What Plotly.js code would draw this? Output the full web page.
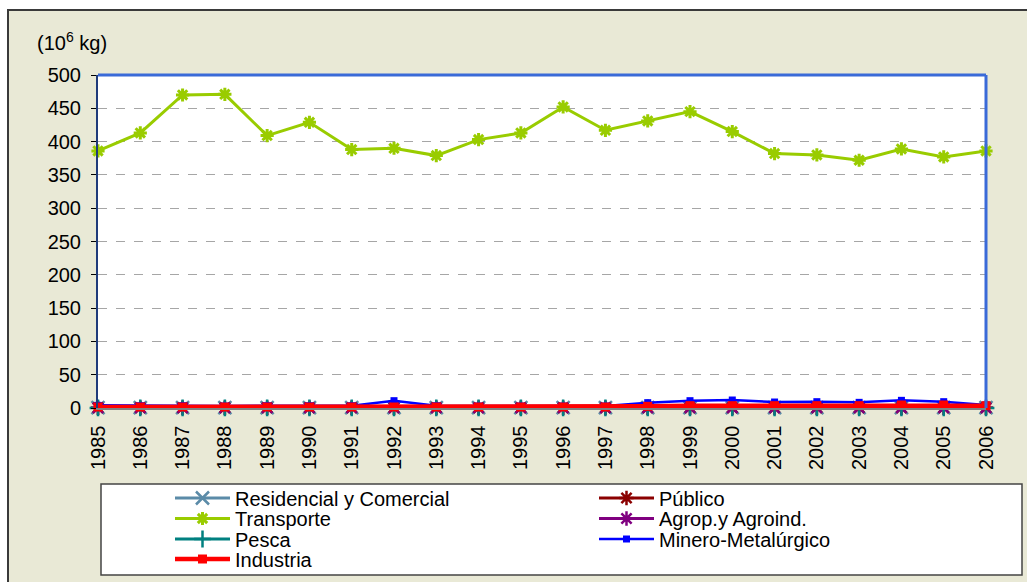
<!DOCTYPE html>
<html>
<head>
<meta charset="utf-8">
<script src="https://cdn.plot.ly/plotly-3.0.1.min.js"></script>
<style>
  html, body { margin: 0; padding: 0; background: #ffffff; width: 1027px; height: 582px; overflow: hidden; }
  #frame { position: absolute; left: 7px; top: 9px; width: 1040px; height: 600px; border: 2px solid #3a3a3a; background: #E9E9D6; box-sizing: border-box; }
  #chart { position: absolute; left: 0; top: 0; width: 1027px; height: 582px; }
</style>
</head>
<body>
<div id="frame"></div>
<div id="chart"></div>
<script>
// ---- data ----
const years = [1985,1986,1987,1988,1989,1990,1991,1992,1993,1994,1995,1996,1997,1998,1999,2000,2001,2002,2003,2004,2005,2006];
const residencial = [0.5,0.5,0.5,0.5,0.5,0.5,0.5,0.5,0.5,0.5,0.5,0.5,0.5,0.5,0.5,0.5,0.5,0.5,0.5,0.5,0.5,0.5];
const publico     = [0.3,0.3,0.3,0.3,0.3,0.3,0.3,0.3,0.3,0.3,0.3,0.3,0.3,0.3,0.3,0.3,0.3,0.3,0.3,0.3,0.3,0.3];
const transporte  = [386,413,470,471,409,429,388,390,379,403,413,452,417,431,445,415,382,380,372,389,377,386];
const agrop       = [0.2,0.2,0.2,0.2,0.2,0.2,0.2,0.2,0.2,0.2,0.2,0.2,0.2,0.2,0.2,0.2,0.2,0.2,0.2,0.2,0.2,0.2];
const pesca       = [0.1,0.1,0.1,0.1,0.1,0.1,0.1,0.1,0.1,0.1,0.1,0.1,0.1,0.1,0.1,0.1,0.1,0.1,0.1,0.1,0.1,0.1];
const minero      = [4,3.5,3.5,3,3.5,3.5,3.5,11,3.5,3,3,3,3,8,11,12,9,9.5,8.5,11.5,9.5,4.5];
const industria   = [1.5,1.5,1.5,1.5,1.5,1.5,1.5,1.5,1.5,1.5,1.5,1.5,1.5,2.5,3.5,3.5,3.5,3.5,3.5,4.5,4.5,3.5];
const yTicks = [0,50,100,150,200,250,300,350,400,450,500];

const FONT = '"Liberation Sans", Arial, sans-serif';
const FS = 20;

function tr(name, y, color, lw, sym, msize, mline) {
  return {
    x: years, y: y, name: name, type: 'scatter', mode: 'lines+markers',
    line: {color: color, width: lw},
    marker: {symbol: sym, size: msize, color: color, line: {color: color, width: mline}},
    cliponaxis: false
  };
}

const data = [
  tr('Residencial y Comercial', residencial, '#5B8BA8', 3, 'x-thin', 13, 2.5),
  tr('Público', publico, '#8B0000', 3, 'asterisk-open', 12, 2.5),
  tr('Transporte', transporte, '#99CC00', 3, 'asterisk-open', 11, 3),
  tr('Agrop.y Agroind.', agrop, '#800080', 3, 'asterisk-open', 12, 2.5),
  tr('Pesca', pesca, '#008080', 3, 'cross-thin', 12, 2.5),
  tr('Minero-Metalúrgico', minero, '#0000FF', 2.5, 'square', 7, 0),
  tr('Industria', industria, '#FF0000', 4.5, 'square', 9, 0)
];

const L = 98, R = 41, T = 75, B = 174;
const PW = 1027 - L - R, PH = 582 - T - B;
const px = v => (v - L) / PW;          // absolute x pixel -> paper
const py = v => (582 - B - v) / PH;     // absolute y pixel -> paper

const layout = {
  width: 1027, height: 582,
  margin: {l: L, r: R, t: T, b: B, pad: 0, autoexpand: false},
  paper_bgcolor: 'rgba(0,0,0,0)',
  plot_bgcolor: '#FFFFFF',
  font: {family: FONT, size: FS, color: '#000000'},
  showlegend: true,
  xaxis: {
    range: [1985, 2006], tickmode: 'array', tickvals: years, ticktext: years.map(String),
    tickangle: -90, ticks: '', showgrid: false, zeroline: false,
    showline: true, linecolor: '#808080', linewidth: 1.5,
    tickfont: {family: FONT, size: FS, color: '#000'}, ticklabelstandoff: 8, automargin: false
  },
  yaxis: {
    range: [0, 500], tickmode: 'array', tickvals: yTicks, ticktext: yTicks.map(String),
    ticks: 'outside', ticklen: 5, tickcolor: '#000', tickwidth: 1,
    showgrid: true, gridcolor: '#A6A6A6', griddash: 'dash', gridwidth: 1,
    zeroline: false, showline: true, linecolor: '#1F3B7A', linewidth: 2,
    tickfont: {family: FONT, size: FS, color: '#000'}, ticklabelstandoff: 6, automargin: false
  },
  legend: {
    orientation: 'h', x: px(170), y: py(486), xanchor: 'left', yanchor: 'top',
    bgcolor: 'rgba(0,0,0,0)', borderwidth: 0,
    entrywidth: 300, entrywidthmode: 'pixels', itemwidth: 55,
    font: {family: FONT, size: FS, color: '#000'}, traceorder: 'normal'
  },
  shapes: [
    {type: 'rect', xref: 'paper', yref: 'paper', x0: px(101), x1: px(1022), y0: py(575), y1: py(484),
     line: {color: '#444444', width: 1.5}, fillcolor: '#FFFFFF', layer: 'below'},
    {type: 'line', xref: 'paper', yref: 'paper', x0: 0, x1: 1, y0: 1, y1: 1, line: {color: '#3A6AD8', width: 3}},
    {type: 'line', xref: 'paper', yref: 'paper', x0: 1, x1: 1, y0: 0, y1: 1, line: {color: '#3A6AD8', width: 3}}
  ],
  annotations: [
    {text: '(10<sup>6</sup> kg)', xref: 'paper', yref: 'paper', x: px(35), y: py(42),
     xanchor: 'left', yanchor: 'middle', showarrow: false, font: {family: FONT, size: FS, color: '#000'}}
  ]
};

function parseT(el) {
  const t = el.getAttribute('transform') || '';
  const m = t.match(/translate\(\s*([-\d.e]+)[ ,]+([-\d.e]+)\s*\)/);
  return m ? {x: parseFloat(m[1]), y: parseFloat(m[2])} : {x: 0, y: 0};
}

Plotly.newPlot('chart', data, layout, {displayModeBar: false, staticPlot: true}).then(gd => {
  const leg = gd.querySelector('g.legend');
  if (!leg) return;
  leg.querySelectorAll('[clip-path]').forEach(e => e.removeAttribute('clip-path'));
  if (leg.hasAttribute('clip-path')) leg.removeAttribute('clip-path');
  const lp = parseT(leg);
  const sb = leg.querySelector('g.scrollbox');
  const sp = sb ? parseT(sb) : {x: 0, y: 0};
  const items = Array.from(leg.querySelectorAll('g.traces'));
  const rowYs = [498, 518.5, 539, 559];
  const colXs = [170, 594];
  items.forEach((it, i) => {
    const row = Math.floor(i / 2), col = i % 2;
    const ox = colXs[col] - lp.x - sp.x;
    const oy = rowYs[row] - lp.y - sp.y;
    it.setAttribute('transform', 'translate(' + ox + ',' + oy + ')');
    it.querySelectorAll('.legendlines path').forEach(p => p.setAttribute('d', 'M5,0h55'));
    it.querySelectorAll('.legendpoints path.scatterpts').forEach(p => p.setAttribute('transform', 'translate(32.5,0)'));
    const txt = it.querySelector('text.legendtext');
    if (txt) txt.setAttribute('x', 65);
  });
});
</script>
</body>
</html>
